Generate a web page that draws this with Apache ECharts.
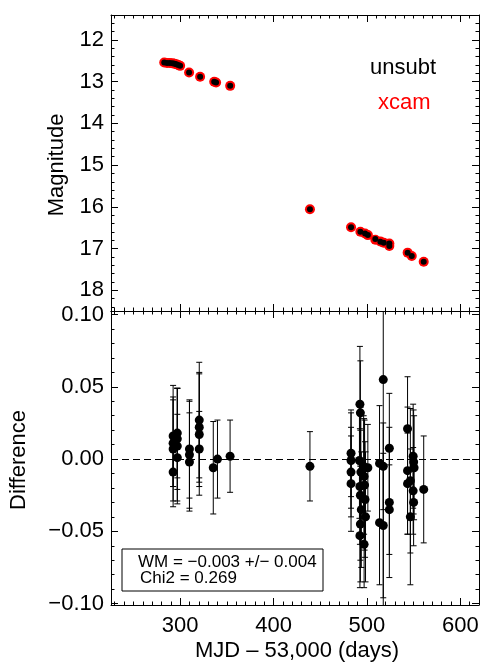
<!DOCTYPE html>
<html>
<head>
<meta charset="utf-8">
<script src="https://cdn.jsdelivr.net/npm/echarts@6/dist/echarts.min.js"></script>
<style>
  html, body { margin: 0; padding: 0; background: #fff; }
  #chart { width: 482px; height: 665px; }
</style>
</head>
<body>
<div id="chart"></div>
<script>
// top panel: magnitude light curve (MJD - 53000)
var magMjd    = [283, 286, 289, 292, 294, 296, 298, 300, 309.6, 321.4, 336.5, 338.5, 353.6,
                 439, 483, 493, 498, 501, 509, 514.4, 518, 524, 524, 543.6, 548, 560.8];
var unsubtMag = [12.54, 12.55, 12.55, 12.56, 12.57, 12.58, 12.60, 12.62, 12.78, 12.88, 13.00, 13.02, 13.10,
                 16.06, 16.49, 16.60, 16.64, 16.68, 16.77, 16.84, 16.86, 16.88, 16.94, 17.10, 17.18, 17.32];
var xcamMag   = [12.54, 12.55, 12.55, 12.56, 12.57, 12.58, 12.60, 12.62, 12.78, 12.88, 13.00, 13.02, 13.10,
                 16.06, 16.49, 16.60, 16.64, 16.68, 16.79, 16.83, 16.86, 16.88, 16.94, 17.10, 17.18, 17.32];

// bottom panel: difference with 1-sigma errors
var diffMjd = [292.5, 292.5, 292.5, 292.5, 297, 297, 297, 297, 310, 310, 310,
               320.5, 320.5, 320.5, 320.5, 335.5, 340, 353.5, 439,
               483, 483, 483, 483,
               492.5, 493, 492, 493.5, 492.5, 493, 494, 493, 492.5,
               496.5, 497, 497.5, 498, 498.5, 497, 501,
               513.5, 513.5, 517.5, 517.5, 517.5, 524, 524, 524,
               543.5, 543.5, 543.5, 546.5, 546.5,
               549.5, 550, 550.5, 549.5, 550, 560.8];
var diffVal = [0.016, 0.011, 0.007, -0.009, 0.018, 0.014, 0.009, 0.001, 0.007, 0.003, -0.002,
               0.027, 0.022, 0.017, 0.007, -0.006, 0.000, 0.002, -0.005,
               0.004, -0.001, -0.009, -0.017,
               0.038, 0.032, -0.001, -0.009, -0.019, -0.025, -0.035, -0.045, -0.053,
               -0.005, -0.012, -0.018, -0.028, -0.040, -0.059, -0.006,
               -0.003, -0.044, 0.055, -0.005, -0.046, 0.0075, -0.030, -0.035,
               0.021, -0.008, -0.017, -0.015, -0.040,
               0.002, -0.002, -0.006, -0.022, -0.030, -0.021];
var diffErr = [0.035, 0.030, 0.036, 0.024, 0.031, 0.035, 0.040, 0.030, 0.034, 0.037, 0.034,
               0.040, 0.038, 0.042, 0.026, 0.032, 0.027, 0.025, 0.024,
               0.030, 0.033, 0.031, 0.033,
               0.040, 0.036, 0.040, 0.045, 0.040, 0.045, 0.040, 0.040, 0.036,
               0.035, 0.040, 0.045, 0.040, 0.045, 0.030, 0.030,
               0.040, 0.043, 0.200, 0.030, 0.050, 0.038, 0.052, 0.031,
               0.036, 0.044, 0.035, 0.050, 0.047,
               0.036, 0.036, 0.036, 0.030, 0.030, 0.037];

// tick values
var xMajor = [300, 400, 500, 600];
var magMajor = [12, 13, 14, 15, 16, 17, 18];
var diffMajor = [-0.10, -0.05, 0.00, 0.05, 0.10];

var xMinor = [], magMinor = [], diffMinor = [];
for (let v = 230; v <= 620; v += 10) xMinor.push(v);
for (let i = 58; i <= 92; i++) magMinor.push(i / 5);
for (let i = -10; i <= 10; i++) diffMinor.push(i / 100);

var FONT = '"Liberation Sans", Arial, sans-serif';

function xAxes(grid, withLabels) {
    var axes = [];
    ['bottom', 'top'].forEach(function (pos) {
        [true, false].forEach(function (major) {
            var labelOn = withLabels && major && pos === 'bottom';
            axes.push({
                type: 'value', gridIndex: grid, position: pos,
                min: 226, max: 620,
                axisLine: { show: major, onZero: false, lineStyle: { color: '#000', width: 1 } },
                axisTick: { show: true, inside: true, length: major ? 7 : 3.5,
                            customValues: major ? xMajor : xMinor,
                            lineStyle: { color: '#000', width: 1 } },
                axisLabel: { show: labelOn, customValues: xMajor, margin: 10,
                             color: '#000', fontSize: 22, fontFamily: FONT },
                splitLine: { show: false }
            });
        });
    });
    return axes;
}

function yAxes(grid, min, max, inverse, majors, minors, fmt) {
    var axes = [];
    ['left', 'right'].forEach(function (pos) {
        [true, false].forEach(function (major) {
            axes.push({
                type: 'value', gridIndex: grid, position: pos,
                min: min, max: max, inverse: inverse,
                axisLine: { show: major, onZero: false, lineStyle: { color: '#000', width: 1 } },
                axisTick: { show: true, inside: true, length: major ? 7 : 3.5,
                            customValues: major ? majors : minors,
                            lineStyle: { color: '#000', width: 1 } },
                axisLabel: { show: major && pos === 'left', customValues: majors, margin: 7,
                             color: '#000', fontSize: 22, fontFamily: FONT, formatter: fmt },
                splitLine: { show: false }
            });
        });
    });
    return axes;
}

function fmtDiff(v) {
    var s = Math.abs(v).toFixed(2);
    return v < -1e-9 ? '\u2212' + s : s;
}

var xcamData = magMjd.map((m, i) => [m, xcamMag[i]]);
var unsubtData = magMjd.map((m, i) => [m, unsubtMag[i]]);
var diffData = diffMjd.map((m, i) => [m, diffVal[i], diffErr[i]]);

function renderErrorBar(params, api) {
    var x = api.value(0), y = api.value(1), e = api.value(2);
    var top = api.coord([x, y + e]);
    var bot = api.coord([x, y - e]);
    var cap = 3;
    var style = { stroke: '#000', lineWidth: 1 };
    return {
        type: 'group',
        children: [
            { type: 'line', shape: { x1: top[0], y1: top[1], x2: bot[0], y2: bot[1] }, style: style },
            { type: 'line', shape: { x1: top[0] - cap, y1: top[1], x2: top[0] + cap, y2: top[1] }, style: style },
            { type: 'line', shape: { x1: bot[0] - cap, y1: bot[1], x2: bot[0] + cap, y2: bot[1] }, style: style }
        ]
    };
}

var chart = echarts.init(document.getElementById('chart'));
chart.setOption({
    animation: false,
    backgroundColor: '#fff',
    grid: [
        { left: 111, right: 3, top: 15, height: 296 },
        { left: 111, right: 3, top: 311, height: 294 }
    ],
    xAxis: xAxes(0, false).concat(xAxes(1, true)),
    yAxis: yAxes(0, 11.4, 18.5, true, magMajor, magMinor, null)
        .concat(yAxes(1, -0.101, 0.1025, false, diffMajor, diffMinor, fmtDiff)),
    graphic: [
        { type: 'text', x: 57, y: 165, rotation: Math.PI / 2,
          style: { text: 'Magnitude', font: '22px ' + FONT, fill: '#000', align: 'center', verticalAlign: 'middle' } },
        { type: 'text', x: 19, y: 460, rotation: Math.PI / 2,
          style: { text: 'Difference', font: '22px ' + FONT, fill: '#000', align: 'center', verticalAlign: 'middle' } },
        { type: 'text', x: 297, y: 651,
          style: { text: 'MJD \u2013 53,000 (days)', font: '22px ' + FONT, fill: '#000', align: 'center', verticalAlign: 'middle' } },
        { type: 'text', x: 370, y: 68,
          style: { text: 'unsubt', font: '22px ' + FONT, fill: '#000', align: 'left', verticalAlign: 'middle' } },
        { type: 'text', x: 378, y: 103,
          style: { text: 'xcam', font: '22px ' + FONT, fill: '#ff0000', align: 'left', verticalAlign: 'middle' } },
        { type: 'rect', shape: { x: 122, y: 549, width: 201, height: 42 },
          style: { fill: '#fff', stroke: '#000', lineWidth: 1 }, z: 100 },
        { type: 'text', x: 138, y: 562, z: 101,
          style: { text: 'WM = \u22120.003 +/\u2212 0.004', font: '17px ' + FONT, fill: '#000', verticalAlign: 'middle' } },
        { type: 'text', x: 140, y: 578, z: 101,
          style: { text: 'Chi2 = 0.269', font: '17px ' + FONT, fill: '#000', verticalAlign: 'middle' } }
    ],
    series: [
        {
            name: 'xcam', type: 'scatter', xAxisIndex: 0, yAxisIndex: 0,
            symbolSize: 10, itemStyle: { color: '#ff0000', opacity: 1 }, data: xcamData
        },
        {
            name: 'unsubt', type: 'scatter', xAxisIndex: 0, yAxisIndex: 0,
            symbolSize: 6, itemStyle: { color: '#000', opacity: 1 }, data: unsubtData
        },
        {
            name: 'errors', type: 'custom', xAxisIndex: 4, yAxisIndex: 4, clip: true,
            renderItem: renderErrorBar, data: diffData, z: 2,
            markLine: {
                silent: true, symbol: 'none', label: { show: false },
                lineStyle: { color: '#000', type: [7, 4], width: 1 },
                data: [{ yAxis: 0 }]
            }
        },
        {
            name: 'difference', type: 'scatter', xAxisIndex: 4, yAxisIndex: 4,
            symbolSize: 9, itemStyle: { color: '#000', opacity: 1 }, data: diffData, z: 3
        }
    ]
});
</script>
</body>
</html>
